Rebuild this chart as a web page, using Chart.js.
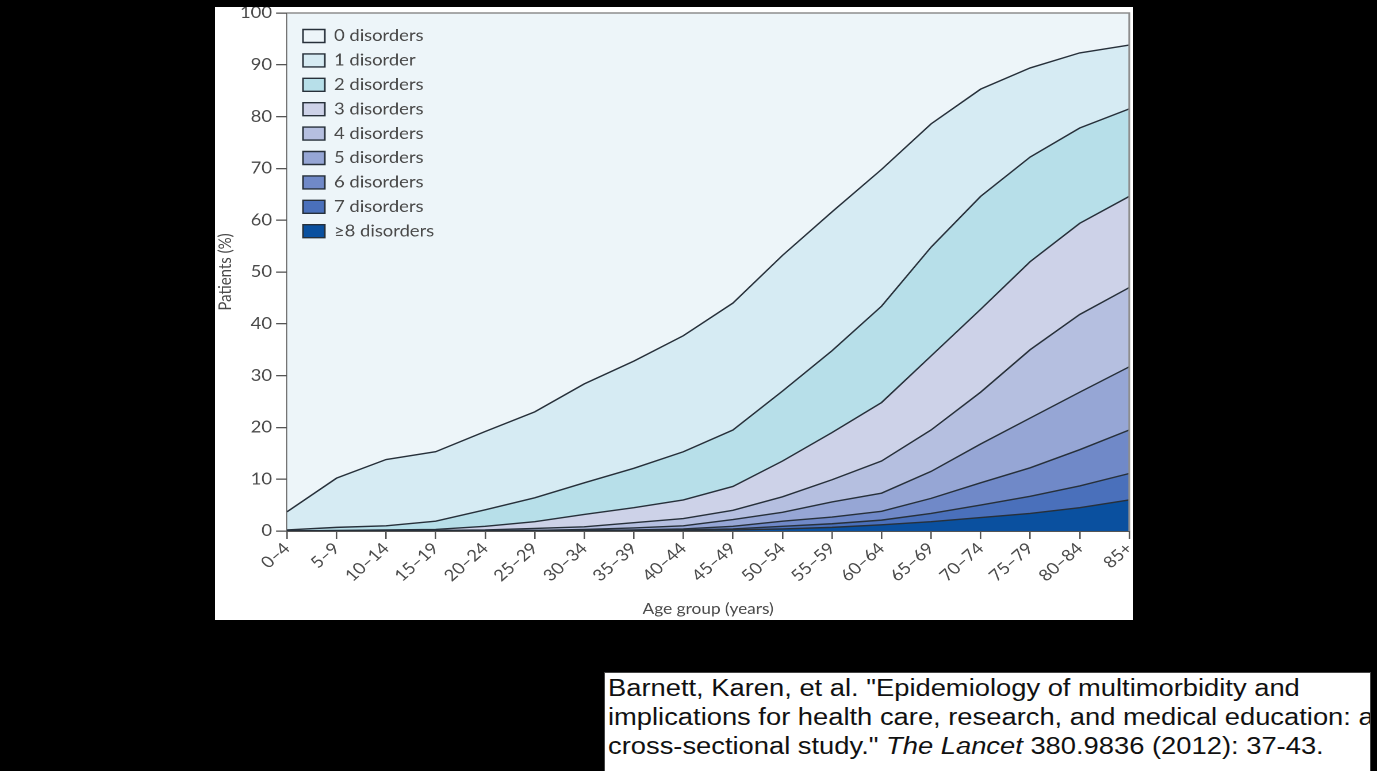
<!DOCTYPE html>
<html>
<head>
<meta charset="utf-8">
<title>Multimorbidity by age group</title>
<script src="https://cdn.jsdelivr.net/npm/chart.js@4.4.1/dist/chart.umd.min.js"></script>
<style>
    html, body { margin: 0; padding: 0; background: #000; width: 1377px; height: 771px; overflow: hidden; }
    #panel { position: absolute; left: 215px; top: 7px; width: 918px; height: 613px; background: #fff; overflow: hidden; }
    /* the source figure is stretched sideways a little, so the canvas is too */
    #stretch { position: absolute; left: 0; top: 0; width: 798px; height: 613px; transform: scaleX(1.15); transform-origin: 0 0; }
    #cite { position: absolute; left: 604px; top: 672px; width: 765px; height: 110px; background: #fff; border: 1px solid #444; overflow: hidden; }
    #cite .txt { position: absolute; left: 3px; top: 1px; transform: scaleX(1.163); transform-origin: 0 0; white-space: nowrap;
                 font-family: "Liberation Sans", Arial, sans-serif; font-size: 23.5px; line-height: 29px; color: #111; }
</style>
</head>
<body>
<div id="panel"><div id="stretch"><canvas id="area_chart" width="798" height="613"></canvas></div></div>
<div id="cite"><div class="txt">Barnett, Karen, et al. "Epidemiology of multimorbidity and<br>implications for health care, research, and medical education: a<br>cross-sectional study." <i>The Lancet</i> 380.9836 (2012): 37-43.</div></div>
<script>
//Age groups (x axis)
var ageGroups = ['0–4', '5–9', '10–14', '15–19', '20–24', '25–29', '30–34', '35–39', '40–44',
    '45–49', '50–54', '55–59', '60–64', '65–69', '70–74', '75–79', '80–84', '85+'];

//Y axis tick values
var yTickValues = [0, 10, 20, 30, 40, 50, 60, 70, 80, 90, 100];

//Share of patients (%) with exactly n disorders, per age group
var eightPlusDisorders = [0, 0, 0, 0, 0, 0, 0, 0, 0.1, 0.2, 0.4, 0.7, 1.2, 1.8, 2.6, 3.4, 4.5, 6.0];
var sevenDisorders = [0, 0, 0, 0, 0, 0, 0.1, 0.1, 0.1, 0.2, 0.5, 0.7, 0.9, 1.6, 2.4, 3.3, 4.2, 5.1];
var sixDisorders = [0, 0, 0, 0, 0, 0.1, 0, 0.1, 0.2, 0.5, 1.0, 1.3, 1.7, 2.9, 4.3, 5.5, 7.0, 8.4];
var fiveDisorders = [0, 0, 0, 0, 0.1, 0, 0.2, 0.4, 0.6, 1.3, 1.7, 2.9, 3.5, 5.2, 7.5, 9.6, 11.1, 12.2];
var fourDisorders = [0, 0, 0.1, 0.1, 0.1, 0.4, 0.5, 1.0, 1.4, 1.8, 3.0, 4.3, 6.2, 8.0, 10.0, 13.2, 15.0, 15.3];
var threeDisorders = [0, 0.1, 0.1, 0.2, 0.7, 1.3, 2.4, 2.9, 3.6, 4.6, 6.9, 9.1, 11.3, 14.3, 16.0, 17.0, 17.6, 17.6];
var twoDisorders = [0.2, 0.6, 0.8, 1.6, 3.2, 4.6, 6.1, 7.6, 9.3, 10.9, 13.5, 15.8, 18.6, 21.0, 21.8, 20.2, 18.4, 16.9];
var oneDisorder = [3.5, 9.5, 12.8, 13.4, 15.1, 16.6, 19.1, 20.7, 22.4, 24.5, 26.2, 26.8, 26.4, 23.8, 20.7, 17.2, 14.5, 12.3];
var zeroDisorders = [96.3, 89.8, 86.2, 84.7, 80.8, 77.0, 71.6, 67.2, 62.3, 56.0, 46.8, 38.4, 30.2, 21.4, 14.7, 10.6, 7.7, 6.2];

//Stack from the bottom up
var layerValues = [eightPlusDisorders, sevenDisorders, sixDisorders, fiveDisorders, fourDisorders,
    threeDisorders, twoDisorders, oneDisorder, zeroDisorders];
var layerNames = ['≥8 disorders', '7 disorders', '6 disorders', '5 disorders', '4 disorders',
    '3 disorders', '2 disorders', '1 disorder', '0 disorders'];
var layerColours = ['#0a509f', '#4a70bb', '#7089c8', '#96a6d5', '#b5bfe0',
    '#cdd2e8', '#b7dfe9', '#d6ebf3', '#edf5f9'];

var lineColour = '#27303a';
var axisColour = '#555555';
var textColour = '#4a4a4a';

//Grey frame on the top and right of the plot, legend kept above the areas
var plotFrame = {
    id: 'plotFrame',
    afterLayout: function (chart) {
        //nudge the legend a little further into the plot
        chart.legend.left += 5.5;
        chart.legend.top += 12.6;
    },
    afterDatasetsDraw: function (chart) {
        var a = chart.chartArea, ctx = chart.ctx;
        ctx.save();
        ctx.strokeStyle = '#8e8e8e';
        ctx.lineWidth = 1.6;
        ctx.beginPath();
        ctx.moveTo(a.left, a.top);
        ctx.lineTo(a.right, a.top);
        ctx.lineTo(a.right, a.bottom);
        ctx.stroke();
        ctx.restore();
        chart.legend.draw();
    }
};

new Chart(document.getElementById('area_chart').getContext('2d'), getChartJs());

function getChartJs() {
    var datasets = layerValues.map(function (values, i) {
        var set = {
            label: layerNames[i],
            data: values,
            backgroundColor: layerColours[i],
            borderColor: lineColour,
            borderWidth: 1.4,
            pointRadius: 0,
            pointHoverRadius: 0,
            tension: 0,
            fill: i === 0 ? 'origin' : '-1'
        };
        if (i === layerValues.length - 1) {
            //top edge at 100% is drawn by the frame
            set.segment = { borderColor: 'rgba(0, 0, 0, 0)' };
        }
        return set;
    });

    return {
        type: 'line',
        data: {
            labels: ageGroups,
            datasets: datasets
        },
        options: {
            responsive: false,
            animation: false,
            devicePixelRatio: 2,
            layout: { padding: { top: 6, right: 3, left: 0, bottom: 0 } },
            font: { family: 'Lato' },
            plugins: {
                tooltip: { enabled: false },
                legend: {
                    position: 'chartArea',
                    align: 'start',
                    reverse: true,
                    labels: {
                        boxWidth: 19,
                        boxHeight: 13,
                        padding: 8.4,
                        color: textColour,
                        font: { family: 'Lato', size: 16 }
                    }
                }
            },
            scales: {
                x: {
                    z: 1,
                    afterFit: function (scale) {
                        scale.height = 89;
                        scale.paddingLeft = 0;
                        scale.paddingRight = 0;
                    },
                    grid: { drawOnChartArea: false, drawTicks: true, tickLength: 8, color: axisColour, lineWidth: 1.3 },
                    border: { display: true, color: axisColour, width: 1.5 },
                    ticks: {
                        autoSkip: false,
                        maxRotation: 45,
                        minRotation: 45,
                        padding: 0,
                        color: textColour,
                        font: { family: 'Lato', size: 16 }
                    },
                    title: {
                        display: true,
                        text: 'Age group (years)',
                        color: textColour,
                        font: { family: 'Lato', size: 15 },
                        padding: { top: 0, bottom: 2 }
                    }
                },
                y: {
                    z: 1,
                    stacked: true,
                    min: 0,
                    max: 100,
                    afterBuildTicks: function (scale) {
                        scale.ticks = yTickValues.map(function (v) { return { value: v }; });
                    },
                    afterFit: function (scale) {
                        scale.width = 62.6;
                        scale.paddingTop = 0;
                        scale.paddingBottom = 0;
                    },
                    grid: { drawOnChartArea: false, drawTicks: true, tickLength: 9.5, color: axisColour, lineWidth: 1.3 },
                    border: { display: true, color: axisColour, width: 1.5 },
                    ticks: {
                        padding: 3.5,
                        color: textColour,
                        font: { family: 'Lato', size: 16 }
                    },
                    title: {
                        display: true,
                        text: 'Patients (%)',
                        color: textColour,
                        font: { family: 'Lato', size: 15 },
                        padding: { top: 0, bottom: 0 }
                    }
                }
            }
        },
        plugins: [plotFrame]
    };
}
</script>
</body>
</html>
